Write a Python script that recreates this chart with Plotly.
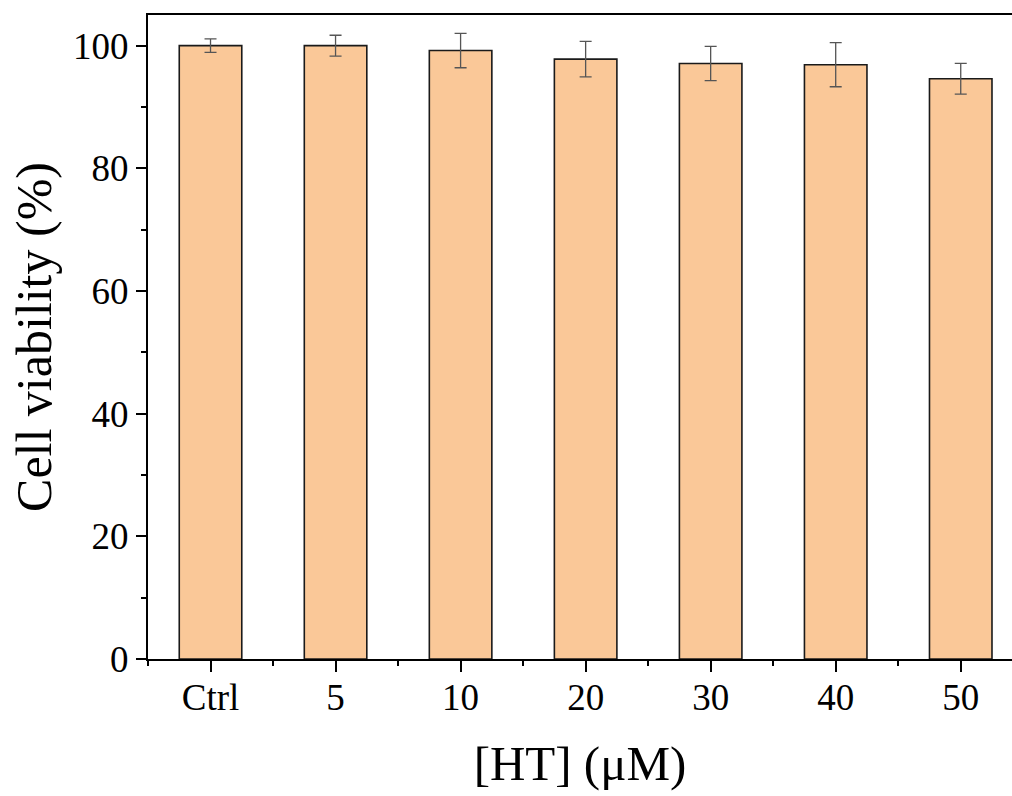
import plotly.graph_objects as go

categories = ["Ctrl", "5", "10", "20", "30", "40", "50"]
viability = [100.0, 100.0, 99.2, 97.8, 97.1, 96.9, 94.6]
errors = [1.1, 1.7, 2.8, 2.9, 2.8, 3.6, 2.5]

positions = list(range(len(categories)))

fig = go.Figure()
fig.add_trace(go.Bar(
    x=positions, y=viability, width=0.5,
    marker=dict(color="#FAC898", line=dict(color="#1a1a1a", width=1.6)),
    error_y=dict(type="data", array=errors, visible=True, color="#555555", thickness=1.3, width=6),
))

font_family = "Liberation Serif"
fig.update_layout(
    width=1012, height=796,
    margin=dict(l=148, r=0, t=15, b=137),
    paper_bgcolor="white", plot_bgcolor="white",
    showlegend=False,
    font=dict(family=font_family, color="black"),
    xaxis=dict(
        range=[-0.5, 6.41],
        tickmode="array", tickvals=positions, ticktext=categories,
        ticks="outside", ticklen=11, tickwidth=2, tickcolor="black",
        showline=True, linecolor="black", linewidth=2, mirror=True,
        showgrid=False, zeroline=False,
        tickfont=dict(size=37, family=font_family),
        ticklabelstandoff=-6,
        minor=dict(tick0=0.5, dtick=1, ticks="outside", ticklen=5, tickwidth=2, tickcolor="black", showgrid=False),
        title=dict(text="[HT] (μM)", font=dict(size=49, family=font_family), standoff=28),
    ),
    yaxis=dict(
        range=[0, 105],
        tickmode="linear", tick0=0, dtick=20,
        ticks="outside", ticklen=10, tickwidth=2, tickcolor="black",
        showline=True, linecolor="black", linewidth=2,
        showgrid=False, zeroline=False,
        tickfont=dict(size=37, family=font_family),
        minor=dict(dtick=10, ticks="outside", ticklen=5, tickwidth=2, tickcolor="black", showgrid=False),
        title=dict(text="Cell viability (%)", font=dict(size=50, family=font_family), standoff=6),
    ),
)

fig.write_html("out.html")
